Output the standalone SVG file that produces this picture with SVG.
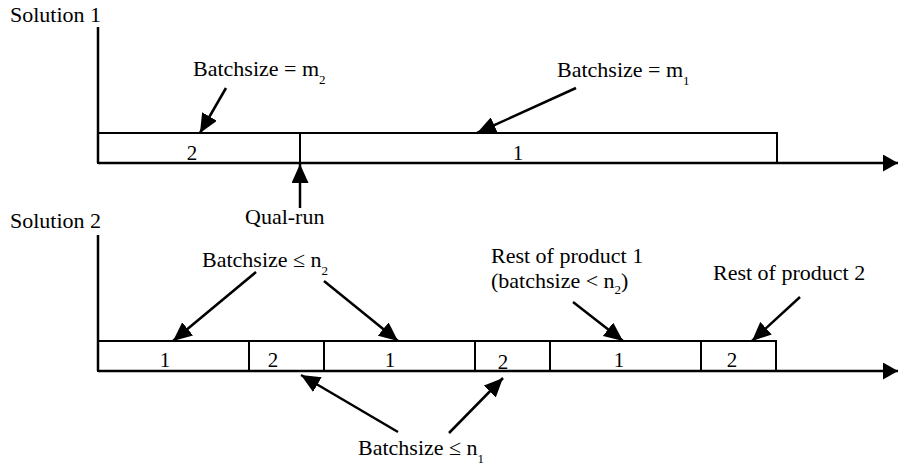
<svg xmlns="http://www.w3.org/2000/svg" width="898" height="467" viewBox="0 0 898 467">
<style>
text{font-family:"Liberation Serif","Times New Roman",serif;fill:#000}
.lbl{font-size:22px}
.num{font-size:21px;text-anchor:middle}
.sub{font-size:13px}
.box{fill:#fff;stroke:#000;stroke-width:2}
.ax{stroke:#000;stroke-width:2.5;fill:none}
.arr{stroke:#000;stroke-width:2.5;fill:none;marker-end:url(#ah)}
.axarr{stroke:#000;stroke-width:2.5;fill:none;marker-end:url(#ah2)}
</style>
<defs>
<marker id="ah" markerUnits="userSpaceOnUse" markerWidth="19" markerHeight="17" refX="19" refY="8.5" orient="auto">
<path d="M0,0 L19,8.5 L0,17 z" fill="#000"/>
</marker>
<marker id="ah2" markerUnits="userSpaceOnUse" markerWidth="15" markerHeight="17" refX="15" refY="8.5" orient="auto">
<path d="M0,0 L15,8.5 L0,17 z" fill="#000"/>
</marker>
</defs>

<g id="solution1">
<text class="lbl" x="10" y="22">Solution 1</text>
<g id="s1-box2"><rect class="box" x="98" y="133" width="202" height="30"/><text class="num" x="192" y="160">2</text></g>
<g id="s1-box1"><rect class="box" x="300" y="133" width="477" height="30"/><text class="num" x="518" y="160">1</text></g>
<g id="label-m2"><text class="lbl" x="193" y="76">Batchsize = m<tspan class="sub" dy="8">2</tspan></text></g>
<g id="label-m1"><text class="lbl" x="557" y="77">Batchsize = m<tspan class="sub" dy="8">1</tspan></text></g>
<g id="label-qual"><text class="lbl" x="245" y="224">Qual-run</text></g>
</g>

<g id="solution2">
<text class="lbl" x="10" y="228">Solution 2</text>
<g id="s2-b1"><rect class="box" x="98" y="341" width="151" height="30"/><text class="num" x="165" y="367">1</text></g>
<g id="s2-b2"><rect class="box" x="249" y="341" width="75" height="30"/><text class="num" x="273" y="367">2</text></g>
<g id="s2-b3"><rect class="box" x="324" y="341" width="151" height="30"/><text class="num" x="390" y="367">1</text></g>
<g id="s2-b4"><rect class="box" x="475" y="341" width="75" height="30"/><text class="num" x="503" y="369">2</text></g>
<g id="s2-b5"><rect class="box" x="550" y="341" width="151" height="30"/><text class="num" x="619" y="367">1</text></g>
<g id="s2-b6"><rect class="box" x="701" y="341" width="75" height="30"/><text class="num" x="732" y="367">2</text></g>
<g id="label-n2"><text class="lbl" x="202" y="267">Batchsize ≤ n<tspan class="sub" dy="8">2</tspan></text></g>
<g id="label-n1"><text class="lbl" x="358" y="455">Batchsize ≤ n<tspan class="sub" dy="8">1</tspan></text></g>
<g id="label-rest1"><text class="lbl" x="491" y="263">Rest of product 1</text><text class="lbl" x="491" y="288">(batchsize &lt; n<tspan class="sub" dy="6">2</tspan><tspan dy="-6">)</tspan></text></g>
<g id="label-rest2"><text class="lbl" x="713" y="280">Rest of product 2</text></g>
</g>

<g id="connectors">
<path class="ax" d="M98,27 V163"/>
<path class="axarr" d="M98,163 H898"/>
<path class="ax" d="M98,235 V371"/>
<path class="axarr" d="M98,371 H898"/>
<line class="arr" x1="226" y1="88" x2="200" y2="133"/>
<line class="arr" x1="576" y1="88" x2="477" y2="133"/>
<line class="arr" x1="300" y1="208" x2="300" y2="164"/>
<line class="arr" x1="256" y1="272" x2="173" y2="341"/>
<line class="arr" x1="324" y1="281" x2="398" y2="341"/>
<line class="arr" x1="398" y1="432" x2="301" y2="375"/>
<line class="arr" x1="449" y1="433" x2="503" y2="378"/>
<line class="arr" x1="573" y1="302" x2="623" y2="341"/>
<line class="arr" x1="800" y1="297" x2="752" y2="341"/>
</g>
</svg>
